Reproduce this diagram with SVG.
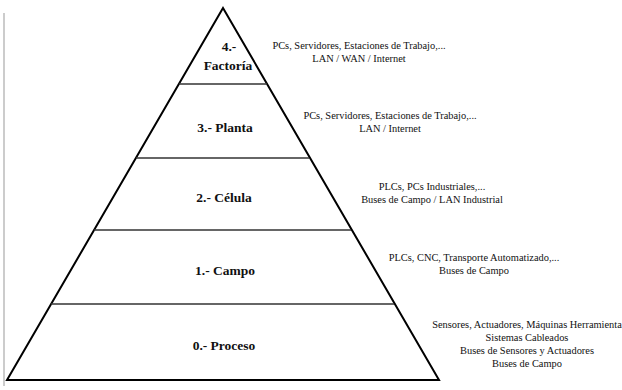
<svg xmlns="http://www.w3.org/2000/svg" width="622" height="390" viewBox="0 0 622 390">
<style>
text{font-family:'Liberation Serif','Times New Roman','DejaVu Serif',serif}
.lvl{font-weight:bold;font-size:13.5px;fill:#111;text-anchor:middle}
.desc{font-size:10.4px;fill:#111;text-anchor:middle}
.side{stroke:#000;stroke-width:2;fill:none;stroke-linejoin:miter}
.div{stroke:#333;stroke-width:1.6}
</style>
<rect width="622" height="390" fill="#fff"/>
<line x1="4" y1="13" x2="4" y2="386" stroke="#999" stroke-width="1"/>
<g id="connectors">
<polygon class="side" points="223,8 439,380 7,380"/>
<line class="div" x1="179" y1="84" x2="267" y2="84"/>
<line class="div" x1="136" y1="158" x2="309" y2="158"/>
<line class="div" x1="94" y1="230" x2="351" y2="230"/>
<line class="div" x1="51" y1="304" x2="394" y2="304"/>
</g>
<g id="n4">
<text class="lvl" x="229" y="51">4.-</text>
<text class="lvl" x="228" y="70">Factoría</text>
<text class="desc" x="359" y="49">PCs, Servidores, Estaciones de Trabajo,...</text>
<text class="desc" x="359" y="62">LAN / WAN / Internet</text>
</g>
<g id="n3">
<text class="lvl" x="225" y="132">3.- Planta</text>
<text class="desc" x="390" y="119">PCs, Servidores, Estaciones de Trabajo,...</text>
<text class="desc" x="390" y="132">LAN / Internet</text>
</g>
<g id="n2">
<text class="lvl" x="224" y="202">2.- Célula</text>
<text class="desc" x="432" y="190">PLCs, PCs Industriales,...</text>
<text class="desc" x="432" y="203">Buses de Campo / LAN Industrial</text>
</g>
<g id="n1">
<text class="lvl" x="225" y="275">1.- Campo</text>
<text class="desc" x="474" y="261">PLCs, CNC, Transporte Automatizado,...</text>
<text class="desc" x="474" y="274">Buses de Campo</text>
</g>
<g id="n0">
<text class="lvl" x="224" y="350">0.- Proceso</text>
<text class="desc" x="527" y="328">Sensores, Actuadores, Máquinas Herramienta</text>
<text class="desc" x="527" y="341">Sistemas Cableados</text>
<text class="desc" x="527" y="354">Buses de Sensores y Actuadores</text>
<text class="desc" x="527" y="367">Buses de Campo</text>
</g>
</svg>
